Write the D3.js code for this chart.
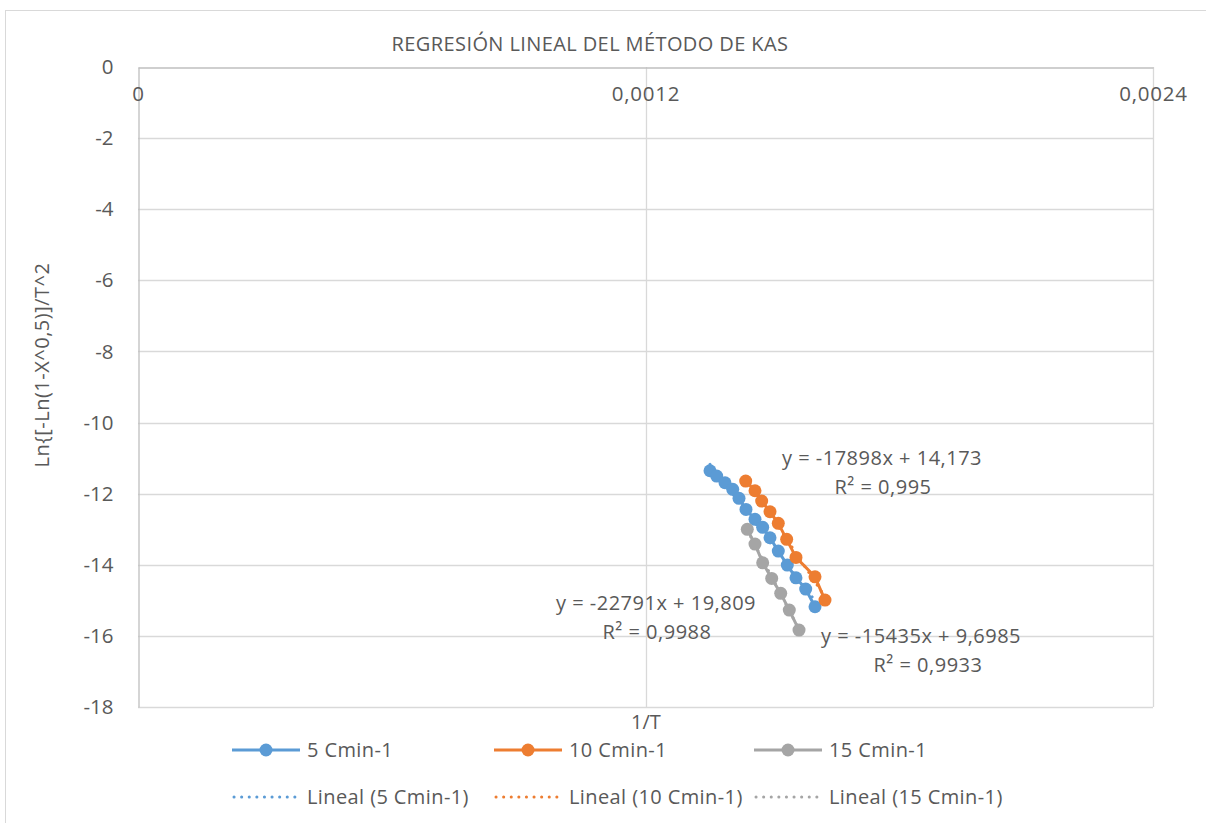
<!DOCTYPE html>
<html>
<head>
<meta charset="utf-8">
<script src="https://cdn.jsdelivr.net/npm/d3@7"></script>
<style>
  html, body { margin: 0; padding: 0; background: #ffffff; }
  svg { display: block; font-family: "Open Sans", Lato, "Liberation Sans", sans-serif; }
</style>
</head>
<body>
<svg id="chart" width="1206" height="823"></svg>
<script>
// Inverse temperature (1/T) and Ln{[-Ln(1-X^0,5)]/T^2} for each heating rate
const series5x  = [0.0013525, 0.0013683, 0.001388, 0.0014062, 0.0014211, 0.0014376, 0.0014589, 0.0014771, 0.0014944, 0.001514, 0.0015353, 0.0015558, 0.0015788, 0.0016008];
const series5y  = [-11.356, -11.505, -11.693, -11.879, -12.132, -12.442, -12.723, -12.948, -13.240, -13.615, -14.008, -14.366, -14.684, -15.181];
const series10x = [0.0014369, 0.0014589, 0.0014747, 0.0014944, 0.001514, 0.0015338, 0.0015558, 0.0016008, 0.0016244];
const series10y = [-11.646, -11.918, -12.208, -12.509, -12.835, -13.285, -13.792, -14.338, -14.993];
const series15x = [0.0014407, 0.0014589, 0.0014771, 0.0014984, 0.0015197, 0.00154, 0.001563];
const series15y = [-13.004, -13.418, -13.944, -14.383, -14.804, -15.274, -15.837];

const seriesNames = ["5 Cmin-1", "10 Cmin-1", "15 Cmin-1"];
const trendNames  = ["Lineal (5 Cmin-1)", "Lineal (10 Cmin-1)", "Lineal (15 Cmin-1)"];
// Linear fit: slope, intercept, R²
const slopes     = [-15435, -17898, -22791];
const intercepts = [9.6985, 14.173, 19.809];
const r2Values   = ["0,9933", "0,995", "0,9988"];
const eqLabels   = ["y = -15435x + 9,6985", "y = -17898x + 14,173", "y = -22791x + 19,809"];

const xTicks = [0, 0.0012, 0.0024];
const yTicks = [0, -2, -4, -6, -8, -10, -12, -14, -16, -18];

const colors = ["#5b9bd5", "#ed7d31", "#a5a5a5"];

const svg = d3.select("#chart");
const plot = { left: 138, right: 1153, top: 67, bottom: 707 };

// outer chart frame
svg.append("rect")
  .attr("x", 5.5).attr("y", 10.5)
  .attr("width", 1210).attr("height", 830)
  .attr("fill", "none").attr("stroke", "#d9d9d9").attr("stroke-width", 1);

const x = d3.scaleLinear().domain([0, 0.0024]).range([plot.left, plot.right]);
const y = d3.scaleLinear().domain([-18, 0]).range([plot.bottom, plot.top]);

const fmt = v => String(v).replace(".", ",");
const textColor = "#595959";
const dotted = { width: 3, dash: "0.1,7.5" };

// horizontal gridlines
svg.append("g")
  .selectAll("line").data(yTicks.filter(v => v !== 0)).join("line")
  .attr("x1", plot.left).attr("x2", plot.right)
  .attr("y1", d => Math.round(y(d)) + 0.5).attr("y2", d => Math.round(y(d)) + 0.5)
  .attr("stroke", "#d9d9d9").attr("stroke-width", 1.3);

// vertical gridlines
svg.append("g")
  .selectAll("line").data(xTicks.filter(v => v !== 0)).join("line")
  .attr("x1", d => Math.round(x(d)) + 0.5).attr("x2", d => Math.round(x(d)) + 0.5)
  .attr("y1", plot.top).attr("y2", plot.bottom)
  .attr("stroke", "#d9d9d9").attr("stroke-width", 1.3);

// axes (the horizontal axis crosses at y = 0, along the top)
const yAxis = d3.axisLeft(y).tickValues(yTicks).tickSize(0).tickFormat(fmt);
const gy = svg.append("g").attr("transform", `translate(${plot.left + 0.5},0)`).call(yAxis);
gy.select(".domain").attr("stroke", "#bfbfbf").attr("stroke-width", 1.3);
gy.selectAll("text").attr("x", -25).attr("fill", textColor)
  .style("font-size", "20.5px").style("font-family", "'Open Sans', Lato, sans-serif");

const xAxis = d3.axisBottom(x).tickValues(xTicks).tickSize(0).tickFormat(fmt);
const gx = svg.append("g").attr("transform", `translate(0,${plot.top + 0.5})`).call(xAxis);
gx.select(".domain").attr("stroke", "#bfbfbf").attr("stroke-width", 1.3);
gx.selectAll("text").attr("y", 19).attr("fill", textColor)
  .style("font-size", "20.5px").style("letter-spacing", "0.8px")
  .style("font-family", "'Open Sans', Lato, sans-serif");

// title
svg.append("text")
  .attr("x", 590).attr("y", 51).attr("text-anchor", "middle")
  .attr("fill", textColor).style("font-size", "20px").style("letter-spacing", "0.4px")
  .text("REGRESIÓN LINEAL DEL MÉTODO DE KAS");

// axis titles
svg.append("text")
  .attr("transform", "translate(49,365) rotate(-90)")
  .attr("text-anchor", "middle").attr("fill", textColor)
  .style("font-size", "20px").style("letter-spacing", "0.5px")
  .text("Ln{[-Ln(1-X^0,5)]/T^2");
svg.append("text")
  .attr("x", 646).attr("y", 729).attr("text-anchor", "middle")
  .attr("fill", textColor).style("font-size", "20px")
  .text("1/T");

const allX = [series5x, series10x, series15x];
const allY = [series5y, series10y, series15y];

// dotted linear trendlines across each series' range
allX.forEach((xs, i) => {
  const x0 = d3.min(xs), x1 = d3.max(xs);
  svg.append("line")
    .attr("x1", x(x0)).attr("y1", y(slopes[i] * x0 + intercepts[i]))
    .attr("x2", x(x1)).attr("y2", y(slopes[i] * x1 + intercepts[i]))
    .attr("stroke", colors[i]).attr("stroke-width", dotted.width)
    .attr("stroke-linecap", "round").attr("stroke-dasharray", dotted.dash);
});

// series lines and markers
const line = d3.line().x(d => x(d[0])).y(d => y(d[1]));
allX.forEach((xs, i) => {
  const pts = xs.map((v, k) => [v, allY[i][k]]);
  const g = svg.append("g");
  g.append("path").datum(pts).attr("d", line)
    .attr("fill", "none").attr("stroke", colors[i]).attr("stroke-width", 3)
    .attr("stroke-linejoin", "round");
  g.selectAll("circle").data(pts).join("circle")
    .attr("cx", d => x(d[0])).attr("cy", d => y(d[1])).attr("r", 6.5)
    .attr("fill", colors[i]);
});

// trendline equation labels
const eqPos = [[921, 643], [882, 465], [656, 610]];
eqPos.forEach((p, i) => {
  const t = svg.append("text").attr("text-anchor", "middle")
    .attr("fill", textColor).style("font-size", "20px").style("letter-spacing", "0.5px");
  t.append("tspan").attr("x", p[0]).attr("y", p[1]).text(eqLabels[i]);
  t.append("tspan").attr("x", p[0] + (i === 0 ? 7 : 1)).attr("y", p[1] + 29).text("R² = " + r2Values[i]);
});

// legend
const legendX = [232, 494, 754];
const legend = svg.append("g");
legendX.forEach((lx, i) => {
  legend.append("line").attr("x1", lx).attr("x2", lx + 68).attr("y1", 750).attr("y2", 750)
    .attr("stroke", colors[i]).attr("stroke-width", 3);
  legend.append("circle").attr("cx", lx + 34).attr("cy", 750).attr("r", 6.5).attr("fill", colors[i]);
  legend.append("text").attr("x", lx + 75).attr("y", 757).attr("fill", textColor)
    .style("font-size", "20px").style("letter-spacing", "0.4px").text(seriesNames[i]);

  legend.append("line").attr("x1", lx + 2).attr("x2", lx + 68).attr("y1", 797).attr("y2", 797)
    .attr("stroke", colors[i]).attr("stroke-width", dotted.width)
    .attr("stroke-linecap", "round").attr("stroke-dasharray", dotted.dash);
  legend.append("text").attr("x", lx + 75).attr("y", 804).attr("fill", textColor)
    .style("font-size", "20px").style("letter-spacing", "0.4px").text(trendNames[i]);
});
</script>
</body>
</html>
